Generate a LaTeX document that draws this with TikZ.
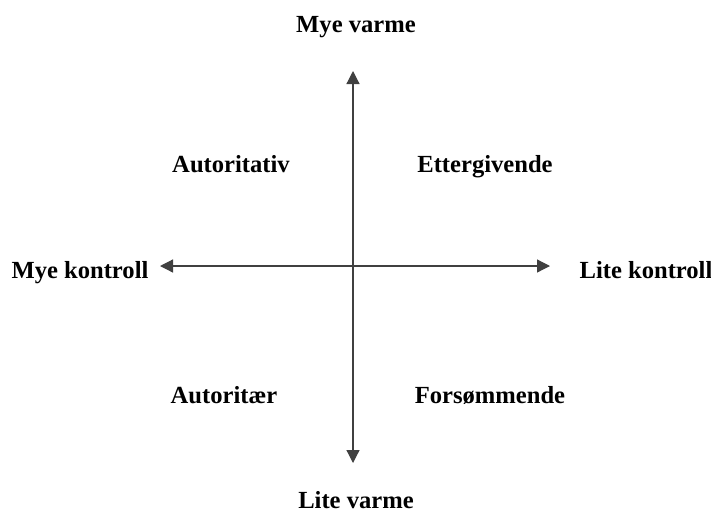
\documentclass[tikz,border=0pt]{standalone}
\usepackage{fontspec}
\setmainfont{Liberation Serif}
\usepackage{xcolor}
\usetikzlibrary{arrows.meta,positioning}
\tikzset{
  lbl/.style={font=\fontsize{12.3}{14}\selectfont\bfseries, inner sep=1pt, anchor=base},
  ax/.style={-{Triangle[length=6.5pt,width=6.5pt]}, line width=0.6pt, draw=black!75}
}

\begin{document}
\begin{tikzpicture}[x=0.5pt,y=-0.5pt]
\useasboundingbox (0,0) rectangle (711,520);
\coordinate (o) at (353,266);
\coordinate (top) at (353,71);
\coordinate (bot) at (353,463);
\coordinate (lft) at (160,266);
\coordinate (rgt) at (550,266);
% axis labels
\node[lbl] (mv) at (356,32) {Mye varme};
\node[lbl] (lv) at (356,508) {Lite varme};
\node[lbl] (mk) at (80,278) {Mye kontroll};
\node[lbl] (lk) at (646,278) {Lite kontroll};
% quadrants
\node[lbl] (aut) at (231,172) {Autoritativ};
\node[lbl] (ett) at (485,172) {Ettergivende};
\node[lbl] (atr) at (224,403) {Autoritær};
\node[lbl] (fors) at (490,403) {Forsømmende};
\draw[ax] (o) -- (top); \draw[ax] (o) -- (bot);
\draw[ax] (o) -- (lft); \draw[ax] (o) -- (rgt);
\end{tikzpicture}
\end{document}
